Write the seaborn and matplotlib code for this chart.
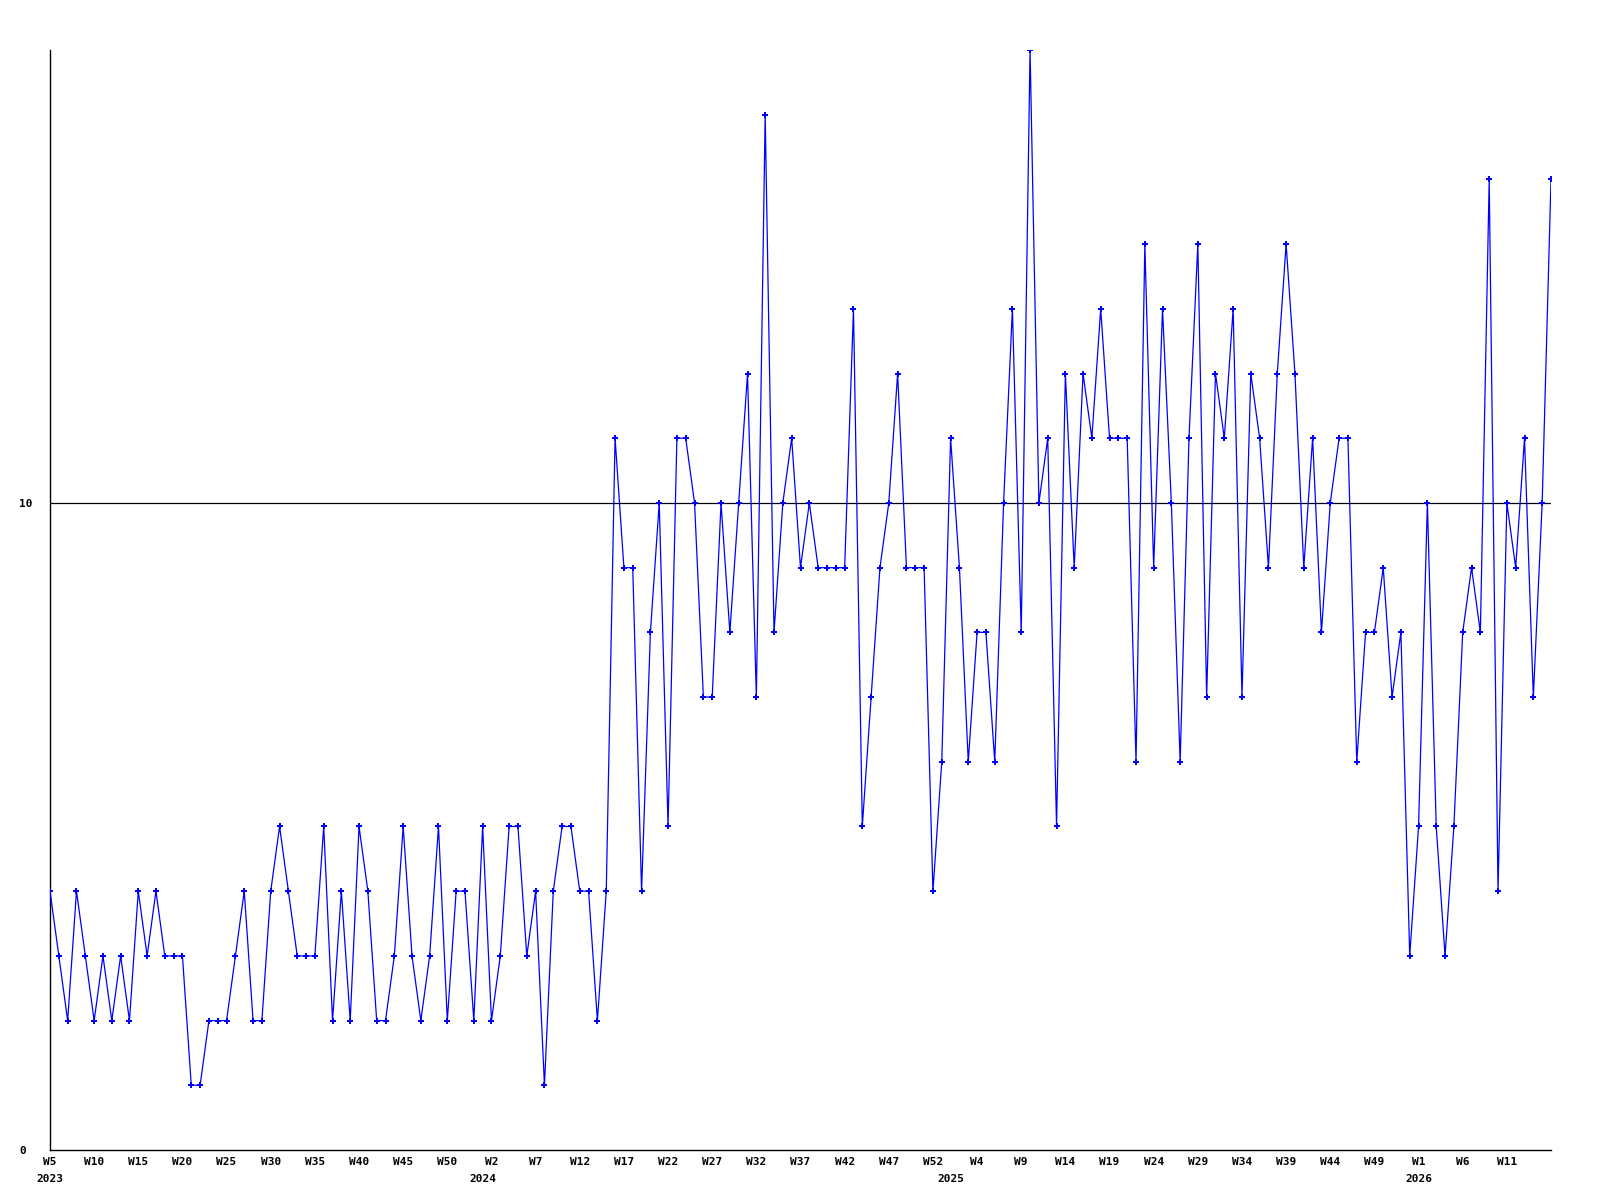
import matplotlib
matplotlib.use("Agg")
import matplotlib.pyplot as plt
import seaborn as sns
import pandas as pd

# weekly counts, 2023 W5 .. 2026 W16
values = [
    4, 3, 2, 4, 3, 2, 3, 2, 3, 2, 4, 3, 4, 3, 3, 3, 1, 1, 2, 2, 2, 3, 4, 2, 2, 4, 5, 4, 3, 3, 3, 5, 2,
    4, 2, 5, 4, 2, 2, 3, 5, 3, 2, 3, 5, 2, 4, 4, 2, 5, 2, 3, 5, 5, 3, 4, 1, 4, 5, 5, 4, 4, 2, 4,
    11, 9, 9, 4, 8, 10, 5, 11, 11, 10, 7, 7, 10, 8, 10, 12, 7, 16, 8, 10, 11, 9, 10, 9, 9, 9, 9, 13, 5, 7, 9, 10, 12,
    9, 9, 9, 4, 6, 11, 9, 6, 8, 8, 6, 10, 13, 8, 17, 10, 11, 5, 12, 9, 12, 11, 13, 11, 11, 11, 6, 14, 9, 13, 10, 6, 11,
    14, 7, 12, 11, 13, 7, 12, 11, 9, 12, 14, 12, 9, 11, 8, 10, 11, 11, 6, 8, 8, 9, 7, 8, 3, 5, 10, 5, 3, 5, 8, 9, 8, 15, 4, 10, 9, 11, 7, 10, 15,
]

# week numbering as used on the axis (each year runs to W53)
years = ["2023", "2024", "2025", "2026"]
first_week = [5, 1, 1, 1]
last_week = [53, 53, 53, 16]

year_col = []
week_col = []
for y, a, b in zip(years, first_week, last_week):
    for w in range(a, b + 1):
        year_col.append(y)
        week_col.append(w)

df = pd.DataFrame({"idx": range(len(values)), "count": values,
                   "year": year_col, "week": week_col})

plt.rcParams["font.family"] = ["DejaVu Sans Mono"]
plt.rcParams["font.weight"] = "bold"

fig = plt.figure(figsize=(16, 12), dpi=100)
ax = fig.add_axes([50 / 1600, 50 / 1200, 1501 / 1600, 1100 / 1200])

ax.axhline(10, color="black", lw=0.9, zorder=1)
sns.lineplot(data=df, x="idx", y="count", ax=ax, color="#0000ff", lw=0.9,
             marker="P", markersize=4.5, markeredgewidth=0, zorder=3)

ax.set_xlim(0, len(values) - 1)
ax.set_ylim(0, 17)

# a label every 5 weeks, the last point gets none
ticks = df.iloc[::5]
ticks = ticks[ticks["idx"] < len(values) - 1]
ax.set_xticks(ticks["idx"].tolist(), ["W%d" % w for w in ticks["week"]])

# year under the first week of each year
ax.xaxis.remove_overlapping_locs = False
year_pos = [df.index[df["year"] == y][0] for y in years]
ax.set_xticks(year_pos, years, minor=True)

ax.set_yticks([0, 10], ["0", "10"])
for lab in ax.get_yticklabels():
    lab.set_horizontalalignment("left")

ax.tick_params(axis="x", which="major", length=0, pad=5, labelsize=8)
ax.tick_params(axis="x", which="minor", length=0, pad=17, labelsize=8)
ax.tick_params(axis="y", length=0, pad=22, labelsize=8)

ax.set_xlabel("")
ax.set_ylabel("")
for s in ["top", "right"]:
    ax.spines[s].set_visible(False)
for s in ["left", "bottom"]:
    ax.spines[s].set_linewidth(1.0)
    ax.spines[s].set_color("black")

fig.savefig("out.png", dpi=100)
